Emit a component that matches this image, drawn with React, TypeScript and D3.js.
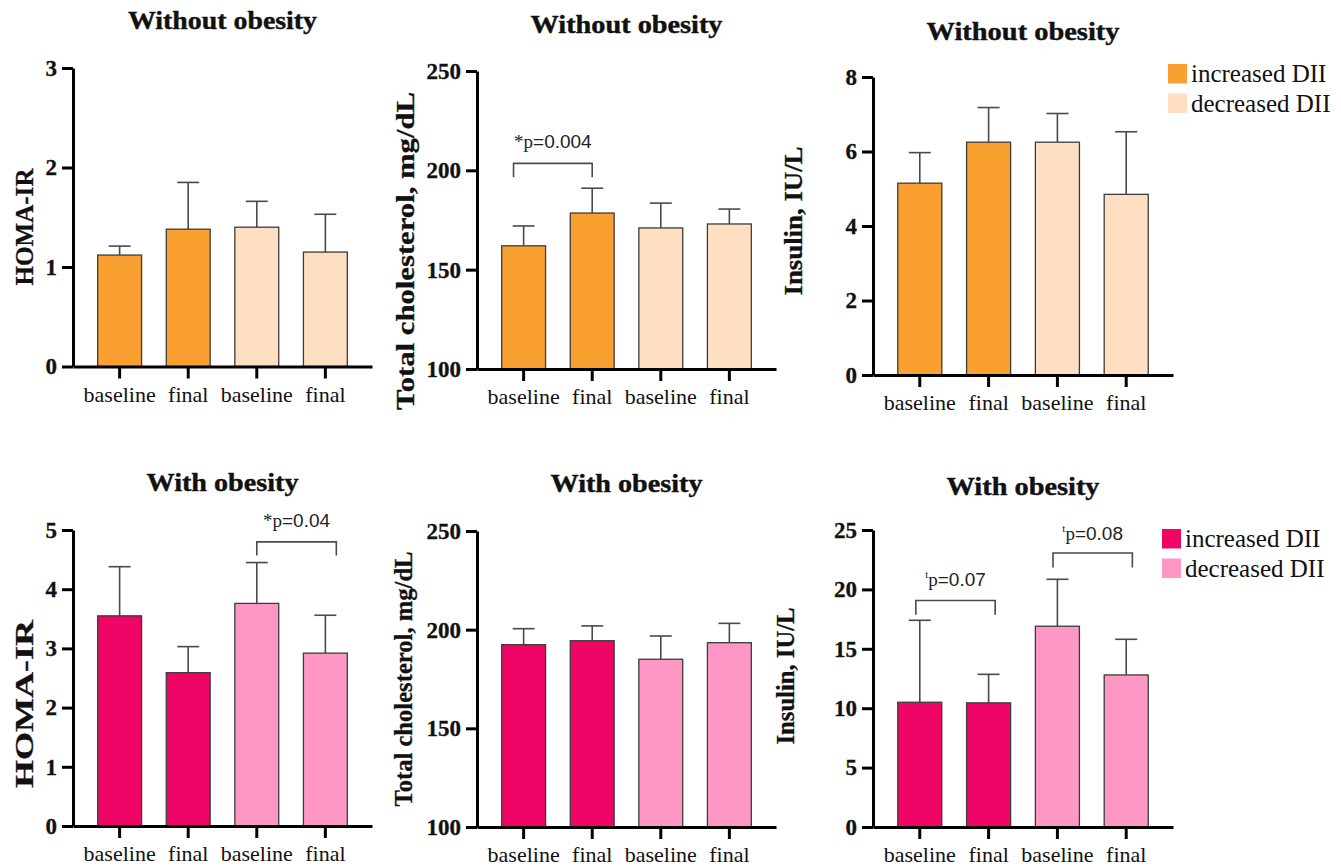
import React, { useEffect, useRef } from "react";
import { select, scaleBand, scaleLinear, axisLeft, axisBottom } from "d3";

// categories on every x axis
const xLabels = ["baseline", "final", "baseline", "final"];
// which DII group each bar belongs to (0 = increased, 1 = decreased)
const barGroup = [0, 0, 1, 1];
const legendLabels = ["increased DII", "decreased DII"];

// without obesity (mean, upper error)
const homaWithoutMean = [1.12, 1.38, 1.4, 1.15];
const homaWithoutSd = [0.09, 0.47, 0.26, 0.38];
const cholWithoutMean = [162, 178.5, 171, 173];
const cholWithoutSd = [10, 12.5, 12.5, 7.5];
const insulinWithoutMean = [5.15, 6.25, 6.25, 4.85];
const insulinWithoutSd = [0.82, 0.93, 0.77, 1.68];

// with obesity
const homaWithMean = [3.55, 2.59, 3.76, 2.92];
const homaWithSd = [0.83, 0.44, 0.69, 0.64];
const cholWithMean = [192.4, 194.4, 185, 193.4];
const cholWithSd = [8.1, 7.5, 11.8, 9.8];
const insulinWithMean = [10.5, 10.45, 16.9, 12.8];
const insulinWithSd = [6.9, 2.4, 3.95, 3.0];

// tick values
const homaWithoutTicks = [0, 1, 2, 3];
const homaWithTicks = [0, 1, 2, 3, 4, 5];
const cholTicks = [100, 150, 200, 250];
const insulinWithoutTicks = [0, 2, 4, 6, 8];
const insulinWithTicks = [0, 5, 10, 15, 20, 25];

const orange = ["#FAA030", "#FFDFC2"];
const pink = ["#EE0566", "#FD98C5"];

const SERIF = "'Liberation Serif', 'Times New Roman', serif";
const SANS = "'Liberation Sans', Arial, sans-serif";

// layout of the six panels
const panels = [
  {
    title: "Without obesity", titleY: 29, titleLen: 189,
    yLabel: "HOMA-IR", labelX: 33, labelY: 227, labelLen: 117,
    mean: homaWithoutMean, sd: homaWithoutSd, domain: [0, 3], ticks: homaWithoutTicks,
    colors: orange, x0: 73, x1: 372, top: 68, bottom: 366.5, brackets: [], legend: null,
  },
  {
    title: "Without obesity", titleY: 33, titleLen: 192,
    yLabel: "Total cholesterol, mg/dL", labelX: 414, labelY: 251, labelLen: 318,
    mean: cholWithoutMean, sd: cholWithoutSd, domain: [100, 250], ticks: cholTicks,
    colors: orange, x0: 477, x1: 776, top: 71, bottom: 369,
    brackets: [{ a: 0, aAt: 0.27, b: 1, bAt: 0.5, top: 203.5, foot: 196.5, textAt: 211, sup: "", pre: "*p", num: "=0.004" }],
    legend: null,
  },
  {
    title: "Without obesity", titleY: 40, titleLen: 193,
    yLabel: "Insulin, IU/L", labelX: 802, labelY: 221, labelLen: 149,
    mean: insulinWithoutMean, sd: insulinWithoutSd, domain: [0, 8], ticks: insulinWithoutTicks,
    colors: orange, x0: 873, x1: 1173, top: 77, bottom: 375, brackets: [],
    legend: { x: 1168, y: 64, textX: 1191 },
  },
  {
    title: "With obesity", titleY: 491, titleLen: 152,
    yLabel: "HOMA-IR", labelX: 33, labelY: 704, labelLen: 168,
    mean: homaWithMean, sd: homaWithSd, domain: [0, 5], ticks: homaWithTicks,
    colors: pink, x0: 73, x1: 372, top: 530, bottom: 826,
    brackets: [{ a: 2, aAt: 0.5, b: 3, bAt: 0.75, top: 4.8, foot: 4.57, textAt: 5.05, sup: "", pre: "*p", num: "=0.04" }],
    legend: null,
  },
  {
    title: "With obesity", titleY: 492, titleLen: 152,
    yLabel: "Total cholesterol, mg/dL", labelX: 412, labelY: 679, labelLen: 255,
    mean: cholWithMean, sd: cholWithSd, domain: [100, 250], ticks: cholTicks,
    colors: pink, x0: 477, x1: 776, top: 531, bottom: 827, brackets: [], legend: null,
  },
  {
    title: "With obesity", titleY: 495, titleLen: 153,
    yLabel: "Insulin, IU/L", labelX: 794, labelY: 676, labelLen: 137,
    mean: insulinWithMean, sd: insulinWithSd, domain: [0, 25], ticks: insulinWithTicks,
    colors: pink, x0: 873, x1: 1173, top: 530, bottom: 827,
    brackets: [
      { a: 0, aAt: 0.41, b: 1, bAt: 0.65, top: 19.07, foot: 17.87, textAt: 20.25, sup: "t", pre: "p", num: "=0.07" },
      { a: 2, aAt: 0.4, b: 3, bAt: 0.64, top: 23.06, foot: 21.85, textAt: 24.2, sup: "t", pre: "p", num: "=0.08" },
    ],
    legend: { x: 1162, y: 529, textX: 1185 },
  },
];

const App = () => {
  const svgRef = useRef(null);

  useEffect(() => {
    const svg = select(svgRef.current);
    svg.selectAll("*").remove();

    panels.forEach((p) => {
      const g = svg.append("g");
      const idx = xLabels.map((_, i) => i);
      const x = scaleBand().domain(idx).range([p.x0, p.x1]).padding(0.36);
      const y = scaleLinear().domain(p.domain).range([p.bottom, p.top]);
      const bw = x.bandwidth();

      // error bars (upper only)
      const err = g.append("g").attr("stroke", "#4a4a4a").attr("stroke-width", 1.6);
      err.selectAll("line.v").data(p.mean).join("line")
        .attr("x1", (_, i) => x(i) + bw / 2).attr("x2", (_, i) => x(i) + bw / 2)
        .attr("y1", (d) => y(d)).attr("y2", (d, i) => y(d + p.sd[i]));
      err.selectAll("line.cap").data(p.mean).join("line")
        .attr("x1", (_, i) => x(i) + bw / 4).attr("x2", (_, i) => x(i) + (3 * bw) / 4)
        .attr("y1", (d, i) => y(d + p.sd[i])).attr("y2", (d, i) => y(d + p.sd[i]));

      // bars
      g.append("g").selectAll("rect").data(p.mean).join("rect")
        .attr("x", (_, i) => x(i))
        .attr("y", (d) => y(d))
        .attr("width", bw)
        .attr("height", (d) => y(p.domain[0]) - y(d))
        .attr("fill", (_, i) => p.colors[barGroup[i]])
        .attr("stroke", "#3c3c3c")
        .attr("stroke-width", 1.3);

      // axes
      const yAxis = g.append("g")
        .attr("transform", `translate(${p.x0},0)`)
        .call(axisLeft(y).tickValues(p.ticks).tickSize(11).tickSizeOuter(0).tickPadding(5).tickFormat((d) => String(d)));
      const xAxis = g.append("g")
        .attr("transform", `translate(0,${p.bottom})`)
        .call(axisBottom(x).tickSize(12).tickSizeOuter(0).tickPadding(7.5).tickFormat((i) => xLabels[i]));
      [yAxis, xAxis].forEach((ax) => {
        ax.attr("font-size", null).attr("font-family", null);
        ax.selectAll("path, line").attr("stroke", "#000").attr("stroke-width", 3);
      });
      yAxis.selectAll("text")
        .attr("font-family", SERIF).attr("font-size", 23).attr("font-weight", "bold")
        .attr("fill", "#111").attr("stroke", "#111").attr("stroke-width", 0.3);
      xAxis.selectAll("text")
        .attr("font-family", SERIF).attr("font-size", 22).attr("fill", "#111");

      // significance brackets
      p.brackets.forEach((b) => {
        const xa = x(b.a) + bw * b.aAt;
        const xb = x(b.b) + bw * b.bAt;
        g.append("path")
          .attr("d", `M${xa},${y(b.foot)}V${y(b.top)}H${xb}V${y(b.foot)}`)
          .attr("fill", "none").attr("stroke", "#4a4a4a").attr("stroke-width", 1.6);
        const t = g.append("text")
          .attr("x", (xa + xb) / 2).attr("y", y(b.textAt))
          .attr("text-anchor", "middle").attr("font-size", 19).attr("fill", "#222");
        if (b.sup) {
          t.append("tspan").attr("font-family", SERIF).attr("font-size", 11).attr("dy", -8).text(b.sup);
          t.append("tspan").attr("font-family", SERIF).attr("dy", 8).text(b.pre);
        } else {
          t.append("tspan").attr("font-family", SERIF).text(b.pre);
        }
        t.append("tspan").attr("font-family", SANS).text(b.num);
      });

      // title
      g.append("text")
        .attr("x", (p.x0 + p.x1) / 2).attr("y", p.titleY)
        .attr("text-anchor", "middle")
        .attr("font-family", SERIF).attr("font-weight", "bold").attr("font-size", 25)
        .attr("textLength", p.titleLen).attr("lengthAdjust", "spacingAndGlyphs")
        .attr("fill", "#111").attr("stroke", "#111").attr("stroke-width", 0.4)
        .text(p.title);

      // y title
      g.append("text")
        .attr("transform", `translate(${p.labelX},${p.labelY}) rotate(-90)`)
        .attr("text-anchor", "middle")
        .attr("font-family", SERIF).attr("font-weight", "bold").attr("font-size", 26)
        .attr("textLength", p.labelLen).attr("lengthAdjust", "spacingAndGlyphs")
        .attr("fill", "#111").attr("stroke", "#111").attr("stroke-width", 0.3)
        .text(p.yLabel);

      // legend
      if (p.legend) {
        const lg = g.append("g");
        legendLabels.forEach((lab, i) => {
          lg.append("rect")
            .attr("x", p.legend.x).attr("y", p.legend.y + i * 29.5)
            .attr("width", 19).attr("height", 19.5)
            .attr("fill", p.colors[i]);
          lg.append("text")
            .attr("x", p.legend.textX).attr("y", p.legend.y + 18 + i * 29.5)
            .attr("font-family", SERIF).attr("font-size", 25).attr("fill", "#111")
            .text(lab);
        });
      }
    });
  }, []);

  return (
    <svg
      ref={svgRef}
      width={1341}
      height={867}
      style={{ position: "absolute", left: 0, top: 0, background: "#fff" }}
    />
  );
};

export default App;
